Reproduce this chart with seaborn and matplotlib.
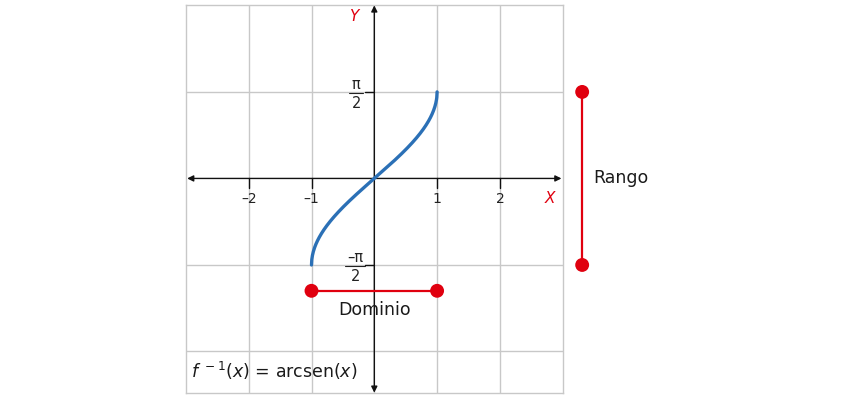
import matplotlib
matplotlib.use("Agg")
import matplotlib.pyplot as plt
import seaborn as sns
import numpy as np
import pandas as pd

# data
x_ticks = [-2, -1, 1, 2]
x_tick_labels = ["\u20132", "\u20131", "1", "2"]
y_ticks = [np.pi / 2, -np.pi / 2]
curve_x = np.linspace(-1, 1, 401)
curve_y = np.arcsin(curve_x)
domain_x = [-1, 1]
domain_level = -2.04
range_y = [-np.pi / 2, np.pi / 2]
range_level = 3.31
formula = r"$f^{\ -1}$($x$) = arcsen($x$)"

RED = "#e0000f"
BLUE = "#2b70b6"
GRID = "#c8c8c8"

sns.set_style("white")
plt.rcParams["font.family"] = ["DejaVu Sans"]
plt.rcParams["mathtext.fontset"] = "dejavusans"

fig = plt.figure(figsize=(8.5, 4), dpi=100)
ax = fig.add_axes([185.9 / 850, 7.3 / 400, 376.8 / 850, 387.3 / 400])
ax.set_xlim(-3, 3)
ax.set_ylim(-3.89, np.pi)

# grid
for gx in range(-2, 3):
    ax.axvline(gx, color=GRID, lw=1, zorder=0)
for gy in [np.pi / 2, -np.pi / 2, -np.pi]:
    ax.axhline(gy, color=GRID, lw=1, zorder=0)
for s in ax.spines.values():
    s.set_color(GRID)
    s.set_linewidth(1)
ax.set_xticks([])
ax.set_yticks([])

# axes arrows
arrow = dict(arrowstyle="<|-|>", color="#111111", lw=1, mutation_scale=9, shrinkA=0, shrinkB=0)
ax.annotate("", xy=(-2.98, 0), xytext=(2.98, 0), arrowprops=arrow)
ax.annotate("", xy=(0, np.pi), xytext=(0, -3.89), arrowprops=arrow)

# ticks
for t, lab in zip(x_ticks, x_tick_labels):
    ax.plot([t, t], [0, -0.17], color="#111111", lw=1)
    ax.text(t, -0.37, lab, ha="center", va="center", fontsize=10, color="#222222")
for t in y_ticks:
    ax.plot([-0.15, 0], [t, t], color="#111111", lw=1)
ax.text(-0.29, np.pi / 2 + 0.14, "\u03c0", ha="center", va="center", fontsize=10.5, color="#222222")
ax.plot([-0.4, -0.18], [np.pi / 2 - 0.02, np.pi / 2 - 0.02], color="#222222", lw=0.8)
ax.text(-0.29, np.pi / 2 - 0.21, "2", ha="center", va="center", fontsize=10.5, color="#222222")
ax.text(-0.3, -np.pi / 2 + 0.14, "\u2013\u03c0", ha="center", va="center", fontsize=10.5, color="#222222")
ax.plot([-0.47, -0.15], [-np.pi / 2 - 0.02, -np.pi / 2 - 0.02], color="#222222", lw=0.8)
ax.text(-0.3, -np.pi / 2 - 0.21, "2", ha="center", va="center", fontsize=10.5, color="#222222")

ax.text(2.8, -0.37, "X", color=RED, style="italic", fontsize=11, ha="center", va="center")
ax.text(-0.32, 2.94, "Y", color=RED, style="italic", fontsize=11, ha="center", va="center")

# curve
df = pd.DataFrame({"x": curve_x, "y": curve_y})
sns.lineplot(data=df, x="x", y="y", sort=False, color=BLUE, lw=2.4, ax=ax, zorder=5)

# domain
dom = pd.DataFrame({"x": domain_x, "y": [domain_level] * 2})
sns.lineplot(data=dom, x="x", y="y", color=RED, lw=1.6, ax=ax, zorder=6)
sns.scatterplot(data=dom, x="x", y="y", color=RED, s=100, edgecolor="none", ax=ax, zorder=7)
ax.text(0, -2.39, "Dominio", ha="center", va="center", fontsize=12.5, color="#1a1a1a")

# range (outside the axes box)
rng = pd.DataFrame({"x": [range_level] * 2, "y": range_y})
ax.plot(rng["x"], rng["y"], color=RED, lw=1.6, clip_on=False, zorder=6)
ax.scatter(rng["x"], rng["y"], color=RED, s=100, edgecolor="none", clip_on=False, zorder=7)
ax.text(range_level + 0.17, 0, "Rango", ha="left", va="center", fontsize=12.5, color="#1a1a1a")

ax.text(-2.92, -3.49, formula, ha="left", va="center", fontsize=12.5, color="#1a1a1a")

ax.set_xlabel("")
ax.set_ylabel("")
fig.savefig("out.png", dpi=100)
